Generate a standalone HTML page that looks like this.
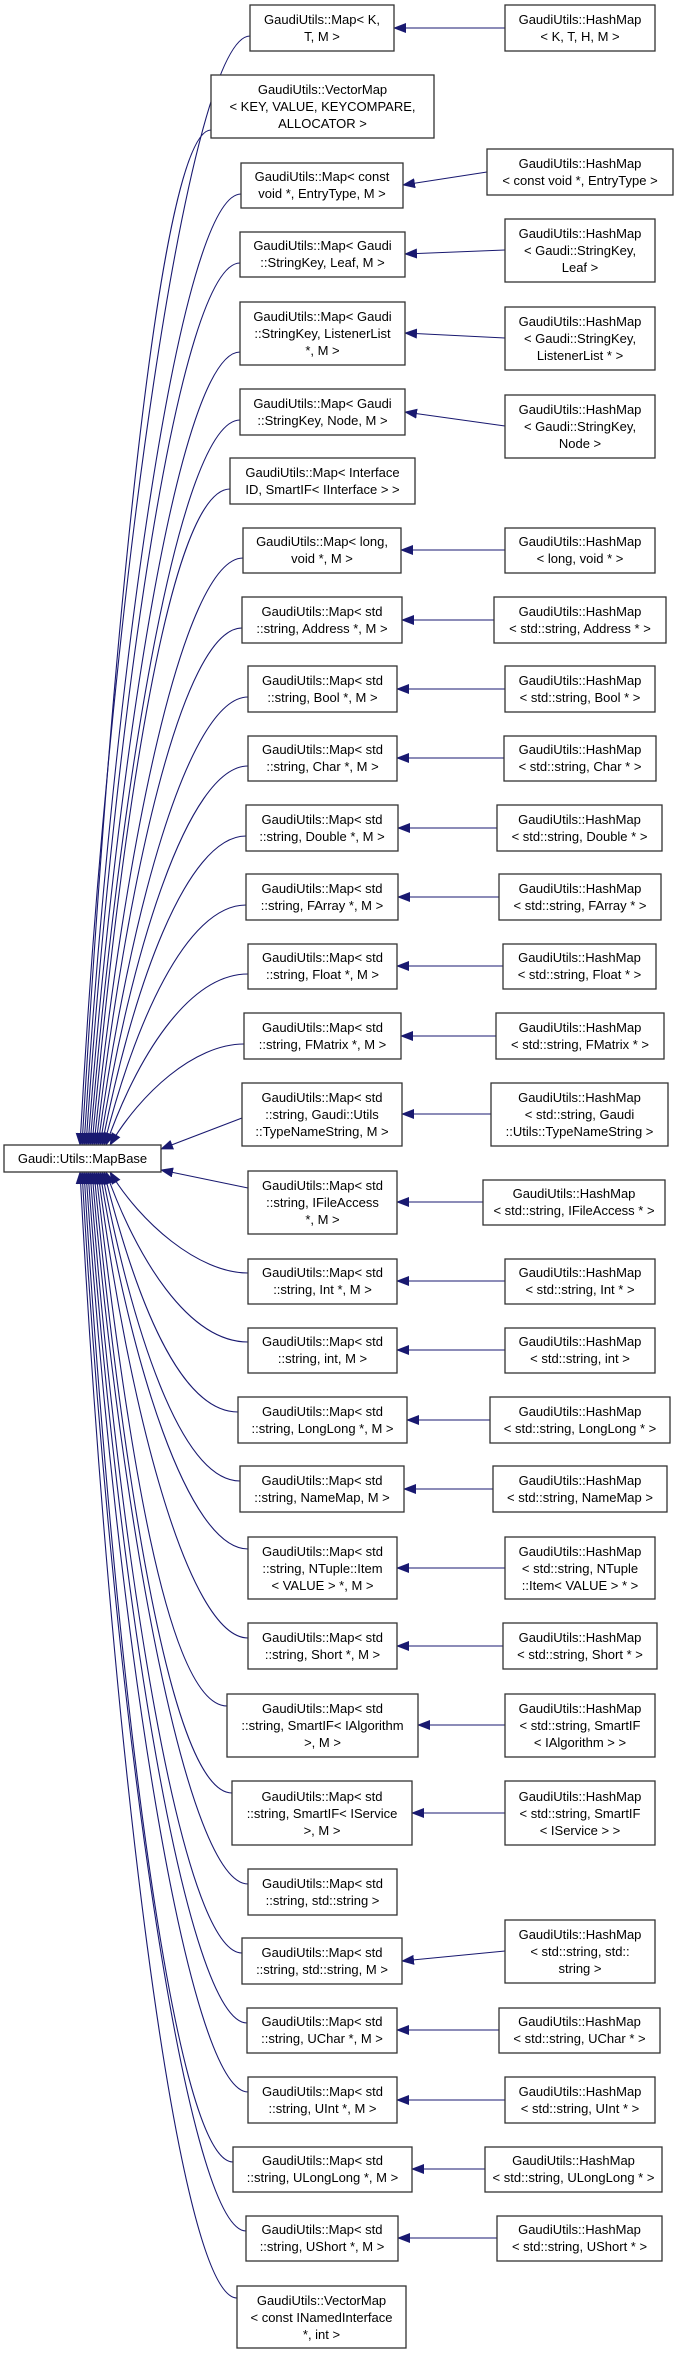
<!DOCTYPE html>
<html><head><meta charset="utf-8"><style>
html,body{margin:0;padding:0;background:#fff;}
svg{display:block;}
text{font-family:"Liberation Sans",Arial,sans-serif;font-size:13px;fill:#000;text-anchor:middle;}
rect{fill:#fff;stroke:#333;stroke-width:1.3;}
.e{fill:none;stroke:#191970;stroke-width:1.1;marker-end:url(#a);}
</style></head><body>
<svg width="675" height="2355" viewBox="0 0 675 2355" xmlns="http://www.w3.org/2000/svg">
<defs><marker id="a" markerWidth="13" markerHeight="10" refX="12" refY="5" orient="auto" markerUnits="userSpaceOnUse"><path d="M0,0 L13,5 L0,10z" fill="#191970"/></marker></defs>

<!-- curves to MapBase -->
<path class="e" d="M250,36 C190,36 110,590 80,1145"/>
<path class="e" d="M211,130 C160,130 112,637 82,1145"/>
<path class="e" d="M241,194 C181,194 114,669 84,1145"/>
<path class="e" d="M240,263 C180,263 116,704 86,1145"/>
<path class="e" d="M240,352 C180,352 118,748 88,1145"/>
<path class="e" d="M240,420 C180,420 120,782 90,1145"/>
<path class="e" d="M230,489 C170,489 122,817 92,1145"/>
<path class="e" d="M243,558 C183,558 124,851 94,1145"/>
<path class="e" d="M242,628 C182,628 126,886 96,1145"/>
<path class="e" d="M248,697 C188,697 128,921 98,1145"/>
<path class="e" d="M248,766 C188,766 130,955 100,1145"/>
<path class="e" d="M246,836 C186,836 132,990 102,1145"/>
<path class="e" d="M246,905 C186,905 134,1025 104,1145"/>
<path class="e" d="M248,974 C188,974 136,1059 106,1145"/>
<path class="e" d="M244,1044 C194,1044 140,1094 110,1145"/>
<path class="e" d="M242,1118 L161,1149"/>
<path class="e" d="M248,1188 L161,1170"/>
<path class="e" d="M248,1273 C198,1273 140,1222 110,1172"/>
<path class="e" d="M248,1342 C188,1342 136,1257 106,1172"/>
<path class="e" d="M238,1412 C178,1412 134,1292 104,1172"/>
<path class="e" d="M240,1481 C180,1481 132,1327 102,1172"/>
<path class="e" d="M248,1549 C188,1549 130,1361 100,1172"/>
<path class="e" d="M248,1638 C188,1638 128,1405 98,1172"/>
<path class="e" d="M227,1706 C167,1706 126,1439 96,1172"/>
<path class="e" d="M232,1793 C172,1793 124,1483 94,1172"/>
<path class="e" d="M248,1884 C188,1884 122,1528 92,1172"/>
<path class="e" d="M242,1953 C182,1953 120,1563 90,1172"/>
<path class="e" d="M247,2023 C187,2023 118,1598 88,1172"/>
<path class="e" d="M248,2092 C188,2092 116,1632 86,1172"/>
<path class="e" d="M233,2162 C173,2162 114,1667 84,1172"/>
<path class="e" d="M246,2231 C186,2231 112,1702 82,1172"/>
<path class="e" d="M237,2298 C177,2298 110,1735 80,1172"/>

<!-- horizontal edges -->
<path class="e" d="M505,28 L394,28"/>
<path class="e" d="M487,172 L403,185"/>
<path class="e" d="M505,250 L405,254"/>
<path class="e" d="M505,338 L405,333"/>
<path class="e" d="M505,426 L405,412"/>
<path class="e" d="M505,550 L401,550"/>
<path class="e" d="M494,620 L402,620"/>
<path class="e" d="M505,689 L397,689"/>
<path class="e" d="M504,758 L397,758"/>
<path class="e" d="M497,828 L398,828"/>
<path class="e" d="M499,897 L398,897"/>
<path class="e" d="M503,966 L397,966"/>
<path class="e" d="M496,1036 L401,1036"/>
<path class="e" d="M491,1114 L402,1114"/>
<path class="e" d="M483,1202 L397,1202"/>
<path class="e" d="M505,1281 L397,1281"/>
<path class="e" d="M505,1350 L397,1350"/>
<path class="e" d="M490,1420 L407,1420"/>
<path class="e" d="M493,1489 L404,1489"/>
<path class="e" d="M505,1568 L397,1568"/>
<path class="e" d="M503,1646 L397,1646"/>
<path class="e" d="M505,1725 L418,1725"/>
<path class="e" d="M505,1813 L412,1813"/>
<path class="e" d="M505,1951 L402,1961"/>
<path class="e" d="M499,2030 L397,2030"/>
<path class="e" d="M505,2100 L397,2100"/>
<path class="e" d="M485,2169 L412,2169"/>
<path class="e" d="M497,2238 L398,2238"/>

<!-- MapBase -->
<rect x="4" y="1145" width="157" height="27"/>
<text x="82.5" y="1163">Gaudi::Utils::MapBase</text>

<!-- left column nodes -->
<rect x="250" y="5" width="144" height="46"/><text x="322" y="24">GaudiUtils::Map&lt; K,</text><text x="322" y="41">T, M &gt;</text>
<rect x="211" y="75" width="223" height="63"/><text x="322.5" y="94">GaudiUtils::VectorMap</text><text x="322.5" y="111">&lt; KEY, VALUE, KEYCOMPARE,</text><text x="322.5" y="128">ALLOCATOR &gt;</text>
<rect x="241" y="163" width="162" height="45"/><text x="322" y="181">GaudiUtils::Map&lt; const</text><text x="322" y="198">void *, EntryType, M &gt;</text>
<rect x="240" y="232" width="165" height="45"/><text x="322.5" y="250">GaudiUtils::Map&lt; Gaudi</text><text x="322.5" y="267">::StringKey, Leaf, M &gt;</text>
<rect x="240" y="302" width="165" height="63"/><text x="322.5" y="321">GaudiUtils::Map&lt; Gaudi</text><text x="322.5" y="338">::StringKey, ListenerList</text><text x="322.5" y="355">*, M &gt;</text>
<rect x="240" y="389" width="165" height="46"/><text x="322.5" y="408">GaudiUtils::Map&lt; Gaudi</text><text x="322.5" y="425">::StringKey, Node, M &gt;</text>
<rect x="230" y="458" width="185" height="46"/><text x="322.5" y="477">GaudiUtils::Map&lt; Interface</text><text x="322.5" y="494">ID, SmartIF&lt; IInterface &gt; &gt;</text>
<rect x="243" y="528" width="158" height="45"/><text x="322" y="546">GaudiUtils::Map&lt; long,</text><text x="322" y="563">void *, M &gt;</text>
<rect x="242" y="597" width="160" height="46"/><text x="322" y="616">GaudiUtils::Map&lt; std</text><text x="322" y="633">::string, Address *, M &gt;</text>
<rect x="248" y="666" width="149" height="46"/><text x="322.5" y="685">GaudiUtils::Map&lt; std</text><text x="322.5" y="702">::string, Bool *, M &gt;</text>
<rect x="248" y="736" width="149" height="45"/><text x="322.5" y="754">GaudiUtils::Map&lt; std</text><text x="322.5" y="771">::string, Char *, M &gt;</text>
<rect x="246" y="805" width="152" height="46"/><text x="322" y="824">GaudiUtils::Map&lt; std</text><text x="322" y="841">::string, Double *, M &gt;</text>
<rect x="246" y="874" width="152" height="46"/><text x="322" y="893">GaudiUtils::Map&lt; std</text><text x="322" y="910">::string, FArray *, M &gt;</text>
<rect x="248" y="944" width="149" height="45"/><text x="322.5" y="962">GaudiUtils::Map&lt; std</text><text x="322.5" y="979">::string, Float *, M &gt;</text>
<rect x="244" y="1013" width="157" height="46"/><text x="322.5" y="1032">GaudiUtils::Map&lt; std</text><text x="322.5" y="1049">::string, FMatrix *, M &gt;</text>
<rect x="242" y="1083" width="160" height="63"/><text x="322" y="1102">GaudiUtils::Map&lt; std</text><text x="322" y="1119">::string, Gaudi::Utils</text><text x="322" y="1136">::TypeNameString, M &gt;</text>
<rect x="248" y="1171" width="149" height="63"/><text x="322.5" y="1190">GaudiUtils::Map&lt; std</text><text x="322.5" y="1207">::string, IFileAccess</text><text x="322.5" y="1224">*, M &gt;</text>
<rect x="248" y="1259" width="149" height="45"/><text x="322.5" y="1277">GaudiUtils::Map&lt; std</text><text x="322.5" y="1294">::string, Int *, M &gt;</text>
<rect x="248" y="1328" width="149" height="45"/><text x="322.5" y="1346">GaudiUtils::Map&lt; std</text><text x="322.5" y="1363">::string, int, M &gt;</text>
<rect x="238" y="1397" width="169" height="46"/><text x="322.5" y="1416">GaudiUtils::Map&lt; std</text><text x="322.5" y="1433">::string, LongLong *, M &gt;</text>
<rect x="240" y="1466" width="164" height="46"/><text x="322" y="1485">GaudiUtils::Map&lt; std</text><text x="322" y="1502">::string, NameMap, M &gt;</text>
<rect x="248" y="1537" width="149" height="62"/><text x="322.5" y="1556">GaudiUtils::Map&lt; std</text><text x="322.5" y="1573">::string, NTuple::Item</text><text x="322.5" y="1590">&lt; VALUE &gt; *, M &gt;</text>
<rect x="248" y="1623" width="149" height="46"/><text x="322.5" y="1642">GaudiUtils::Map&lt; std</text><text x="322.5" y="1659">::string, Short *, M &gt;</text>
<rect x="227" y="1694" width="191" height="63"/><text x="322.5" y="1713">GaudiUtils::Map&lt; std</text><text x="322.5" y="1730">::string, SmartIF&lt; IAlgorithm</text><text x="322.5" y="1747">&gt;, M &gt;</text>
<rect x="232" y="1781" width="180" height="64"/><text x="322" y="1801">GaudiUtils::Map&lt; std</text><text x="322" y="1818">::string, SmartIF&lt; IService</text><text x="322" y="1835">&gt;, M &gt;</text>
<rect x="248" y="1869" width="149" height="46"/><text x="322.5" y="1888">GaudiUtils::Map&lt; std</text><text x="322.5" y="1905">::string, std::string &gt;</text>
<rect x="242" y="1938" width="160" height="46"/><text x="322" y="1957">GaudiUtils::Map&lt; std</text><text x="322" y="1974">::string, std::string, M &gt;</text>
<rect x="247" y="2008" width="150" height="45"/><text x="322" y="2026">GaudiUtils::Map&lt; std</text><text x="322" y="2043">::string, UChar *, M &gt;</text>
<rect x="248" y="2077" width="149" height="46"/><text x="322.5" y="2096">GaudiUtils::Map&lt; std</text><text x="322.5" y="2113">::string, UInt *, M &gt;</text>
<rect x="233" y="2147" width="179" height="45"/><text x="322.5" y="2165">GaudiUtils::Map&lt; std</text><text x="322.5" y="2182">::string, ULongLong *, M &gt;</text>
<rect x="246" y="2216" width="152" height="45"/><text x="322" y="2234">GaudiUtils::Map&lt; std</text><text x="322" y="2251">::string, UShort *, M &gt;</text>
<rect x="237" y="2286" width="169" height="62"/><text x="321.5" y="2305">GaudiUtils::VectorMap</text><text x="321.5" y="2322">&lt; const INamedInterface</text><text x="321.5" y="2339">*, int &gt;</text>

<!-- right column nodes -->
<rect x="505" y="5" width="150" height="46"/><text x="580" y="24">GaudiUtils::HashMap</text><text x="580" y="41">&lt; K, T, H, M &gt;</text>
<rect x="487" y="149" width="186" height="46"/><text x="580" y="168">GaudiUtils::HashMap</text><text x="580" y="185">&lt; const void *, EntryType &gt;</text>
<rect x="505" y="219" width="150" height="63"/><text x="580" y="238">GaudiUtils::HashMap</text><text x="580" y="255">&lt; Gaudi::StringKey,</text><text x="580" y="272">Leaf &gt;</text>
<rect x="505" y="307" width="150" height="63"/><text x="580" y="326">GaudiUtils::HashMap</text><text x="580" y="343">&lt; Gaudi::StringKey,</text><text x="580" y="360">ListenerList * &gt;</text>
<rect x="505" y="395" width="150" height="63"/><text x="580" y="414">GaudiUtils::HashMap</text><text x="580" y="431">&lt; Gaudi::StringKey,</text><text x="580" y="448">Node &gt;</text>
<rect x="505" y="528" width="150" height="45"/><text x="580" y="546">GaudiUtils::HashMap</text><text x="580" y="563">&lt; long, void * &gt;</text>
<rect x="494" y="597" width="172" height="46"/><text x="580" y="616">GaudiUtils::HashMap</text><text x="580" y="633">&lt; std::string, Address * &gt;</text>
<rect x="505" y="666" width="150" height="46"/><text x="580" y="685">GaudiUtils::HashMap</text><text x="580" y="702">&lt; std::string, Bool * &gt;</text>
<rect x="504" y="736" width="152" height="45"/><text x="580" y="754">GaudiUtils::HashMap</text><text x="580" y="771">&lt; std::string, Char * &gt;</text>
<rect x="497" y="805" width="165" height="46"/><text x="579.5" y="824">GaudiUtils::HashMap</text><text x="579.5" y="841">&lt; std::string, Double * &gt;</text>
<rect x="499" y="874" width="162" height="46"/><text x="580" y="893">GaudiUtils::HashMap</text><text x="580" y="910">&lt; std::string, FArray * &gt;</text>
<rect x="503" y="944" width="153" height="45"/><text x="579.5" y="962">GaudiUtils::HashMap</text><text x="579.5" y="979">&lt; std::string, Float * &gt;</text>
<rect x="496" y="1013" width="168" height="46"/><text x="580" y="1032">GaudiUtils::HashMap</text><text x="580" y="1049">&lt; std::string, FMatrix * &gt;</text>
<rect x="491" y="1083" width="177" height="63"/><text x="579.5" y="1102">GaudiUtils::HashMap</text><text x="579.5" y="1119">&lt; std::string, Gaudi</text><text x="579.5" y="1136">::Utils::TypeNameString &gt;</text>
<rect x="483" y="1180" width="182" height="45"/><text x="574" y="1198">GaudiUtils::HashMap</text><text x="574" y="1215">&lt; std::string, IFileAccess * &gt;</text>
<rect x="505" y="1259" width="150" height="45"/><text x="580" y="1277">GaudiUtils::HashMap</text><text x="580" y="1294">&lt; std::string, Int * &gt;</text>
<rect x="505" y="1328" width="150" height="45"/><text x="580" y="1346">GaudiUtils::HashMap</text><text x="580" y="1363">&lt; std::string, int &gt;</text>
<rect x="490" y="1397" width="180" height="46"/><text x="580" y="1416">GaudiUtils::HashMap</text><text x="580" y="1433">&lt; std::string, LongLong * &gt;</text>
<rect x="493" y="1466" width="174" height="46"/><text x="580" y="1485">GaudiUtils::HashMap</text><text x="580" y="1502">&lt; std::string, NameMap &gt;</text>
<rect x="505" y="1537" width="150" height="62"/><text x="580" y="1556">GaudiUtils::HashMap</text><text x="580" y="1573">&lt; std::string, NTuple</text><text x="580" y="1590">::Item&lt; VALUE &gt; * &gt;</text>
<rect x="503" y="1623" width="154" height="46"/><text x="580" y="1642">GaudiUtils::HashMap</text><text x="580" y="1659">&lt; std::string, Short * &gt;</text>
<rect x="505" y="1694" width="150" height="63"/><text x="580" y="1713">GaudiUtils::HashMap</text><text x="580" y="1730">&lt; std::string, SmartIF</text><text x="580" y="1747">&lt; IAlgorithm &gt; &gt;</text>
<rect x="505" y="1781" width="150" height="64"/><text x="580" y="1801">GaudiUtils::HashMap</text><text x="580" y="1818">&lt; std::string, SmartIF</text><text x="580" y="1835">&lt; IService &gt; &gt;</text>
<rect x="505" y="1920" width="150" height="63"/><text x="580" y="1939">GaudiUtils::HashMap</text><text x="580" y="1956">&lt; std::string, std::</text><text x="580" y="1973">string &gt;</text>
<rect x="499" y="2008" width="161" height="45"/><text x="579.5" y="2026">GaudiUtils::HashMap</text><text x="579.5" y="2043">&lt; std::string, UChar * &gt;</text>
<rect x="505" y="2077" width="150" height="46"/><text x="580" y="2096">GaudiUtils::HashMap</text><text x="580" y="2113">&lt; std::string, UInt * &gt;</text>
<rect x="485" y="2147" width="177" height="45"/><text x="573.5" y="2165">GaudiUtils::HashMap</text><text x="573.5" y="2182">&lt; std::string, ULongLong * &gt;</text>
<rect x="497" y="2216" width="165" height="45"/><text x="579.5" y="2234">GaudiUtils::HashMap</text><text x="579.5" y="2251">&lt; std::string, UShort * &gt;</text>
</svg>
</body></html>
